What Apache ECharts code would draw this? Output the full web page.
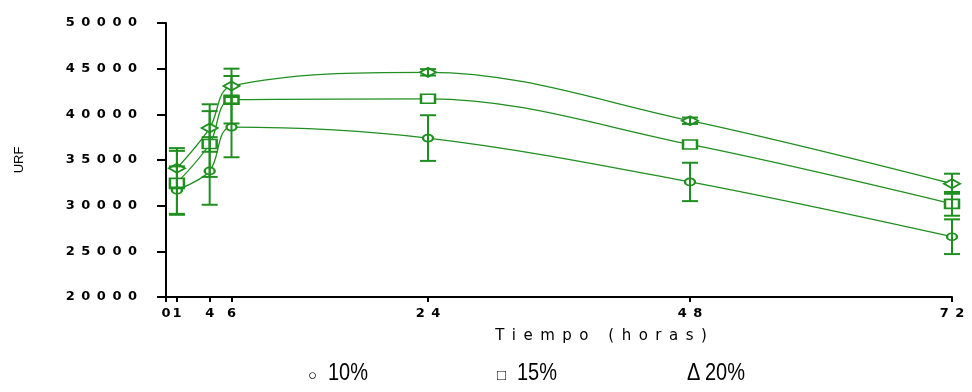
<!DOCTYPE html>
<html>
<head>
<meta charset="utf-8">
<style>
  html, body { margin: 0; padding: 0; background: #fff; }
  #chart { width: 972px; height: 392px; }
</style>
<script src="https://cdn.jsdelivr.net/npm/echarts@6/dist/echarts.min.js"></script>
</head>
<body>
<div id="chart"></div>
<script>
// Sampling times (hours) and mean fluorescence (URF) per concentration
const hours = [1, 4, 6, 24, 48, 72];
const urf10 = [31700, 33800, 38600, 37400, 32600, 26600];
const err10 = [2600, 3700, 3300, 2500, 2100, 1900];
const urf15 = [32500, 36750, 41600, 41700, 36700, 30200];
const err15 = [3500, 3600, 2600, 0, 0, 1300];
const urf20 = [34100, 38500, 43100, 44600, 39300, 32400];
const err20 = [2200, 2600, 1900, 350, 350, 1100];

// Axis ticks
const xTicks = [0, 1, 4, 6, 24, 48, 72];
const yMin = 20000, yMax = 50000, yStep = 5000;

// Legend entries
const legendGlyphs = ['\u25CB', '\u25A1', '\u0394'];
const legendLabels = ['10%', '15%', '20%'];

const GREEN = '#1f8f1f';
const GAP = '\u2002';

const spaced = (s, sep) => String(s).split('').join(sep);

function pairs(ys) { return hours.map((h, i) => [h, ys[i]]); }
function triples(ys, es) { return hours.map((h, i) => [h, ys[i], es[i]]); }

function errorBars(params, api) {
  const x = api.value(0), m = api.value(1), e = api.value(2);
  if (!e) return null;
  const top = api.coord([x, m + e]);
  const bot = api.coord([x, m - e]);
  const hw = 8;
  const st = { stroke: GREEN, lineWidth: 2 };
  return {
    type: 'group',
    children: [
      { type: 'line', shape: { x1: top[0], y1: top[1], x2: bot[0], y2: bot[1] }, style: st },
      { type: 'line', shape: { x1: top[0] - hw, y1: top[1], x2: top[0] + hw, y2: top[1] }, style: st },
      { type: 'line', shape: { x1: bot[0] - hw, y1: bot[1], x2: bot[0] + hw, y2: bot[1] }, style: st }
    ]
  };
}

function curve(name, ys, symbol, size) {
  return {
    name: name,
    type: 'line',
    data: pairs(ys),
    smooth: 0.35,
    symbol: symbol,
    symbolSize: size,
    showSymbol: true,
    lineStyle: { color: GREEN, width: 1.3 },
    itemStyle: { color: GREEN, borderWidth: 1.5 },
    z: 2
  };
}

function bars(ys, es) {
  return {
    type: 'custom',
    renderItem: errorBars,
    data: triples(ys, es),
    encode: { x: 0, y: 1 },
    clip: false,
    z: 3
  };
}

// Legend drawn as text (glyph + label), bottom strip trimmed at the page edge
const legendX = [308, 497, 687];
const labelX = [328, 517, 705];
const legendGraphics = [];
legendLabels.forEach((lab, i) => {
  legendGraphics.push({
    type: 'text',
    x: legendX[i],
    y: i === 2 ? 373.6 : 376,
    scaleY: i === 2 ? 1.2 : 1,
    style: {
      text: legendGlyphs[i],
      font: (i === 2 ? '20px' : '15px') + ' "Liberation Sans", "DejaVu Sans", sans-serif',
      fill: '#000',
      verticalAlign: 'middle',
      align: 'left'
    },
    z: 10
  });
  legendGraphics.push({
    type: 'text',
    x: labelX[i],
    y: 373.6,
    scaleY: 1.2,
    style: {
      text: lab,
      font: '20px "Liberation Sans", Arial, sans-serif',
      fill: '#000',
      verticalAlign: 'middle',
      align: 'left'
    },
    z: 10
  });
});
legendGraphics.push({
  type: 'rect',
  shape: { x: 250, y: 380, width: 560, height: 14 },
  style: { fill: '#fff' },
  z: 20
});

const chart = echarts.init(document.getElementById('chart'), null, { renderer: 'canvas' });
chart.setOption({
  animation: false,
  backgroundColor: '#fff',
  grid: { left: 166, right: 20, top: 23, bottom: 95 },
  xAxis: {
    type: 'value',
    min: 0,
    max: 72,
    name: spaced('Tiempo (horas)', GAP),
    nameLocation: 'middle',
    nameGap: 32,
    nameTextStyle: {
      color: '#000',
      fontFamily: 'DejaVu Sans',
      fontSize: 15,
      padding: [0, 0, 0, 84]
    },
    splitLine: { show: false },
    axisLine: { show: true, lineStyle: { color: '#000', width: 2 } },
    axisTick: {
      show: true,
      customValues: xTicks,
      length: 5,
      lineStyle: { color: '#000', width: 2 }
    },
    axisLabel: {
      customValues: xTicks,
      formatter: v => spaced(v, GAP),
      color: '#000',
      fontFamily: 'DejaVu Sans',
      fontWeight: 'bold',
      fontSize: 13,
      margin: 10
    }
  },
  yAxis: {
    type: 'value',
    min: yMin,
    max: yMax,
    interval: yStep,
    name: 'URF',
    nameLocation: 'middle',
    nameRotate: 90,
    nameGap: 140,
    nameTextStyle: { color: '#000', fontFamily: 'Liberation Sans', fontSize: 13 },
    splitLine: { show: false },
    axisLine: { show: true, lineStyle: { color: '#000', width: 2 } },
    axisTick: { show: true, length: 9, lineStyle: { color: '#000', width: 2 } },
    axisLabel: {
      formatter: v => spaced(v, GAP),
      color: '#000',
      fontFamily: 'DejaVu Sans',
      fontWeight: 'bold',
      fontSize: 13,
      margin: 29
    }
  },
  series: [
    curve('10%', urf10, 'emptyCircle', [10, 7]),
    curve('15%', urf15, 'emptyRect', [14, 9]),
    curve('20%', urf20, 'emptyDiamond', [16, 9]),
    bars(urf10, err10),
    bars(urf15, err15),
    bars(urf20, err20)
  ],
  graphic: legendGraphics
});
</script>
</body>
</html>
